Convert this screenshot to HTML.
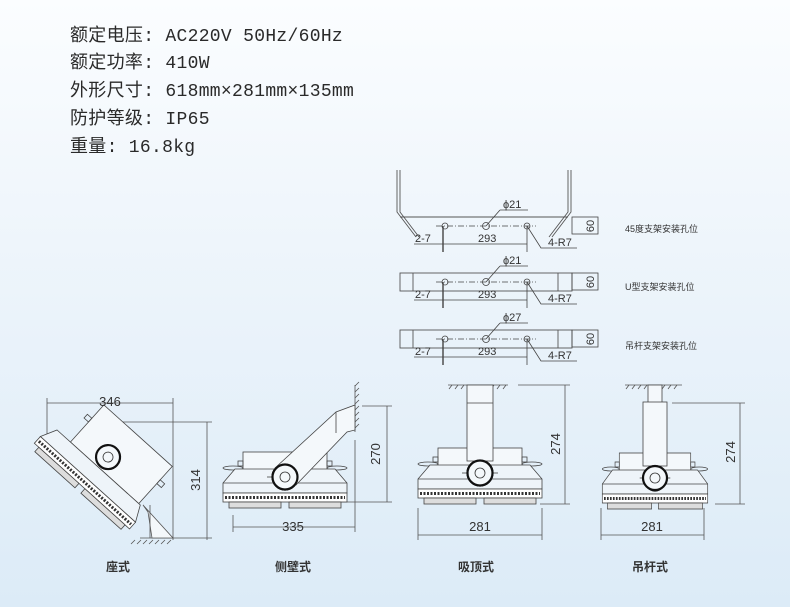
<!DOCTYPE html>
<html><head><meta charset="utf-8"><style>
html,body{margin:0;padding:0}
body{width:790px;height:607px;overflow:hidden;background:linear-gradient(180deg,#fbfdff 0%,#eef5fb 40%,#dcebf7 100%);}
svg{display:block}
.t{font-family:"Liberation Mono","Noto Sans CJK SC",monospace;font-size:18px;fill:#2a2a2a;letter-spacing:0.3px}
.s{font-family:"Liberation Sans","Noto Sans CJK SC",sans-serif;fill:#333}
</style></head><body>
<svg width="790" height="607" viewBox="0 0 790 607" xmlns="http://www.w3.org/2000/svg">
<defs>
<g id="lamp" fill="none" stroke="#444" stroke-width="0.8">
 <rect x="-42" y="-25" width="84" height="22" fill="#f4f8fb"/>
 <rect x="-47" y="-16" width="5" height="5"/><rect x="42" y="-16" width="5" height="5"/>
 <ellipse cx="-52" cy="-9" rx="10" ry="2"/><ellipse cx="52" cy="-9" rx="10" ry="2"/>
 <polygon points="-50,-8 50,-8 62,6 62,16 -62,16 -62,6" fill="#eef4f9"/>
 <line x1="-62" y1="6" x2="62" y2="6"/>
 <rect x="-62" y="16" width="124" height="9" fill="#fff"/>
 <line x1="-60" y1="20.5" x2="60" y2="20.5" stroke="#333" stroke-width="3" stroke-dasharray="2,1.5"/>
 <rect x="-56" y="25" width="52" height="6" fill="#ddd"/><rect x="4" y="25" width="52" height="6" fill="#ddd"/>
 <circle r="12.5" fill="#f4f8fb" stroke="#111" stroke-width="2.2"/>
 <circle r="5" stroke="#333"/>
 <line x1="-18" y1="0" x2="-13" y2="0"/><line x1="13" y1="0" x2="18" y2="0"/>
</g>
</defs>
<g class="t">
<text x="70" y="41">额定电压: AC220V 50Hz/60Hz</text>
<text x="70" y="68">额定功率: 410W</text>
<text x="70" y="96">外形尺寸: 618mm×281mm×135mm</text>
<text x="70" y="124">防护等级: IP65</text>
<text x="70" y="152">重量: 16.8kg</text>
</g>

<!-- brackets -->
<g fill="none" stroke="#555" stroke-width="0.9">
 <path d="M397,170 V212 L416,237 M400,170 V212 L419,237"/>
 <path d="M571,170 V212 L552,237 M568,170 V212 L549,237"/>
 <line x1="400" y1="217" x2="568" y2="217"/>
 <rect x="400" y="273" width="172" height="18"/><line x1="413" y1="273" x2="413" y2="291"/><line x1="558" y1="273" x2="558" y2="291"/>
 <rect x="400" y="330" width="172" height="18"/><line x1="413" y1="330" x2="413" y2="348"/><line x1="558" y1="330" x2="558" y2="348"/>
</g>
<g id="holes" fill="none" stroke="#444" stroke-width="0.8">
 <line x1="436" y1="226" x2="536" y2="226" stroke-dasharray="6,2,1,2"/>
 <circle cx="445" cy="226" r="3"/><circle cx="527" cy="226" r="3"/><circle cx="486" cy="226" r="3.5"/>
 <line x1="486" y1="226" x2="500" y2="210"/><line x1="500" y1="210" x2="528" y2="210"/>
 <line x1="443" y1="226" x2="443" y2="252" stroke-width="1.4"/><line x1="527" y1="226" x2="527" y2="252"/>
 <line x1="414" y1="244" x2="527" y2="244"/>
 <polyline points="527,226 541,248 577,248"/>
 <rect x="572" y="217" width="26" height="17"/>
</g>
<use href="#holes" y="56"/><use href="#holes" y="113"/>
<g class="s" font-size="11">
 <text x="503" y="208">ϕ21</text><text x="415" y="242">2-7</text><text x="478" y="242">293</text><text x="548" y="246">4-R7</text>
 <text x="503" y="264">ϕ21</text><text x="415" y="298">2-7</text><text x="478" y="298">293</text><text x="548" y="302">4-R7</text>
 <text x="503" y="321">ϕ27</text><text x="415" y="355">2-7</text><text x="478" y="355">293</text><text x="548" y="359">4-R7</text>
 <text transform="translate(590,226) rotate(-90)" text-anchor="middle" dy="4">60</text>
 <text transform="translate(590,282) rotate(-90)" text-anchor="middle" dy="4">60</text>
 <text transform="translate(590,339) rotate(-90)" text-anchor="middle" dy="4">60</text>
 <text x="625" y="290" font-size="9">U型支架安装孔位</text>
 <text x="625" y="232" font-size="9">45度支架安装孔位</text>
 <text x="625" y="349" font-size="9">吊杆支架安装孔位</text>
</g>

<!-- 座式 -->
<g fill="none" stroke="#555" stroke-width="0.8">
 <line x1="47" y1="403" x2="173" y2="403"/><line x1="47" y1="398" x2="47" y2="460"/><line x1="173" y1="398" x2="173" y2="540"/>
 <line x1="100" y1="422" x2="212" y2="422"/><line x1="140" y1="538" x2="212" y2="538"/><line x1="207" y1="422" x2="207" y2="540"/>
 <polygon points="143,505 173,538 152,538 148,512" fill="#f4f8fb"/>
 <line x1="150" y1="505" x2="150" y2="538"/>
 <path d="M135,540 l-4,4 M141,540 l-4,4 M147,540 l-4,4 M153,540 l-4,4 M159,540 l-4,4 M165,540 l-4,4 M171,540 l-4,4"/>
</g>
<g transform="translate(100,466) rotate(42)" fill="none" stroke="#444" stroke-width="0.8">
 <rect x="-38" y="-48" width="92" height="50" fill="#f4f8fb"/>
 <rect x="-44" y="-30" width="6" height="5"/><rect x="54" y="-30" width="6" height="5"/>
 <polygon points="-56,2 56,2 64,18 -64,18" fill="#eef4f9"/>
 <rect x="-64" y="18" width="128" height="9" fill="#fff"/>
 <line x1="-62" y1="22.5" x2="62" y2="22.5" stroke="#333" stroke-width="3" stroke-dasharray="2,1.5"/>
 <rect x="-58" y="27" width="54" height="6" fill="#ddd"/><rect x="4" y="27" width="54" height="6" fill="#ddd"/>
 <circle cx="0" cy="-12" r="12" fill="#f4f8fb" stroke="#111" stroke-width="2.2"/>
 <circle cx="0" cy="-12" r="5" stroke="#333"/>
</g>

<!-- 侧壁式 -->
<g fill="none" stroke="#555" stroke-width="0.8">
 <line x1="355" y1="385" x2="355" y2="432"/>
 <path d="M355,386 l4,-4 M355,392 l4,-4 M355,398 l4,-4 M355,404 l4,-4 M355,410 l4,-4 M355,416 l4,-4 M355,422 l4,-4 M355,428 l4,-4"/>
 <line x1="362" y1="406" x2="392" y2="406"/><line x1="336" y1="502" x2="392" y2="502"/><line x1="387" y1="406" x2="387" y2="502"/>
 <line x1="233" y1="515" x2="233" y2="532"/><line x1="355" y1="440" x2="355" y2="532"/><line x1="233" y1="527" x2="355" y2="527"/>
</g>
<use href="#lamp" x="285" y="477"/>
<polygon points="275,468 336,412 355,405 355,430 347,432 296,485" fill="#f4f8fb" stroke="#444" stroke-width="0.8"/>
<line x1="336" y1="412" x2="336" y2="433" stroke="#444" stroke-width="0.8"/>
<g fill="#f4f8fb" stroke="#111" stroke-width="2.2"><circle cx="285" cy="477" r="12.5"/></g>
<circle cx="285" cy="477" r="5" fill="none" stroke="#333" stroke-width="0.8"/>

<!-- 吸顶式 -->
<g fill="none" stroke="#555" stroke-width="0.8">
 <line x1="448" y1="385" x2="508" y2="385"/>
 <path d="M452,385 l-3,4 M458,385 l-3,4 M464,385 l-3,4 M470,385 l-3,4 M476,385 l-3,4 M482,385 l-3,4 M488,385 l-3,4 M494,385 l-3,4 M500,385 l-3,4 M506,385 l-3,4"/>
 <line x1="518" y1="385" x2="570" y2="385"/><line x1="540" y1="504" x2="570" y2="504"/><line x1="565" y1="385" x2="565" y2="504"/>
 <line x1="418" y1="508" x2="418" y2="540"/><line x1="542" y1="508" x2="542" y2="540"/><line x1="418" y1="535" x2="542" y2="535"/>
</g>
<use href="#lamp" x="480" y="473"/>
<rect x="467" y="385" width="26" height="76" fill="#f4f8fb" stroke="#444" stroke-width="0.8"/>
<line x1="467" y1="403" x2="493" y2="403" stroke="#444" stroke-width="0.8"/>
<circle cx="480" cy="473" r="12.5" fill="#f4f8fb" stroke="#111" stroke-width="2.2"/><circle cx="480" cy="473" r="5" fill="none" stroke="#333" stroke-width="0.8"/>

<!-- 吊杆式 -->
<g fill="none" stroke="#555" stroke-width="0.8">
 <line x1="625" y1="385" x2="682" y2="385"/>
 <path d="M629,385 l-3,4 M635,385 l-3,4 M641,385 l-3,4 M647,385 l-3,4 M653,385 l-3,4 M659,385 l-3,4 M665,385 l-3,4 M671,385 l-3,4 M677,385 l-3,4"/>
 <line x1="672" y1="403" x2="745" y2="403"/><line x1="715" y1="504" x2="745" y2="504"/><line x1="740" y1="403" x2="740" y2="504"/>
 <line x1="601" y1="508" x2="601" y2="540"/><line x1="704" y1="508" x2="704" y2="540"/><line x1="601" y1="535" x2="704" y2="535"/>
</g>
<g transform="translate(655,478) scale(0.85,1)"><use href="#lamp"/></g>
<rect x="648" y="385" width="14" height="18" fill="#f4f8fb" stroke="#444" stroke-width="0.8"/>
<rect x="643" y="402" width="24" height="64" fill="#f4f8fb" stroke="#444" stroke-width="0.8"/>
<circle cx="655" cy="478" r="12" fill="#f4f8fb" stroke="#111" stroke-width="2.2"/><circle cx="655" cy="478" r="5" fill="none" stroke="#333" stroke-width="0.8"/>

<g class="s" font-size="13" fill="#333">
 <text x="110" y="406" text-anchor="middle">346</text>
 <text transform="translate(200,480) rotate(-90)" text-anchor="middle">314</text>
 <text transform="translate(380,454) rotate(-90)" text-anchor="middle">270</text>
 <text x="293" y="531" text-anchor="middle">335</text>
 <text transform="translate(560,444) rotate(-90)" text-anchor="middle">274</text>
 <text x="480" y="531" text-anchor="middle">281</text>
 <text transform="translate(735,452) rotate(-90)" text-anchor="middle">274</text>
 <text x="652" y="531" text-anchor="middle">281</text>
</g>
<g class="s" font-size="12" font-weight="bold" fill="#222" text-anchor="middle">
 <text x="118" y="571">座式</text><text x="293" y="571">侧壁式</text><text x="476" y="571">吸顶式</text><text x="650" y="571">吊杆式</text>
</g>
</svg>
</body></html>
